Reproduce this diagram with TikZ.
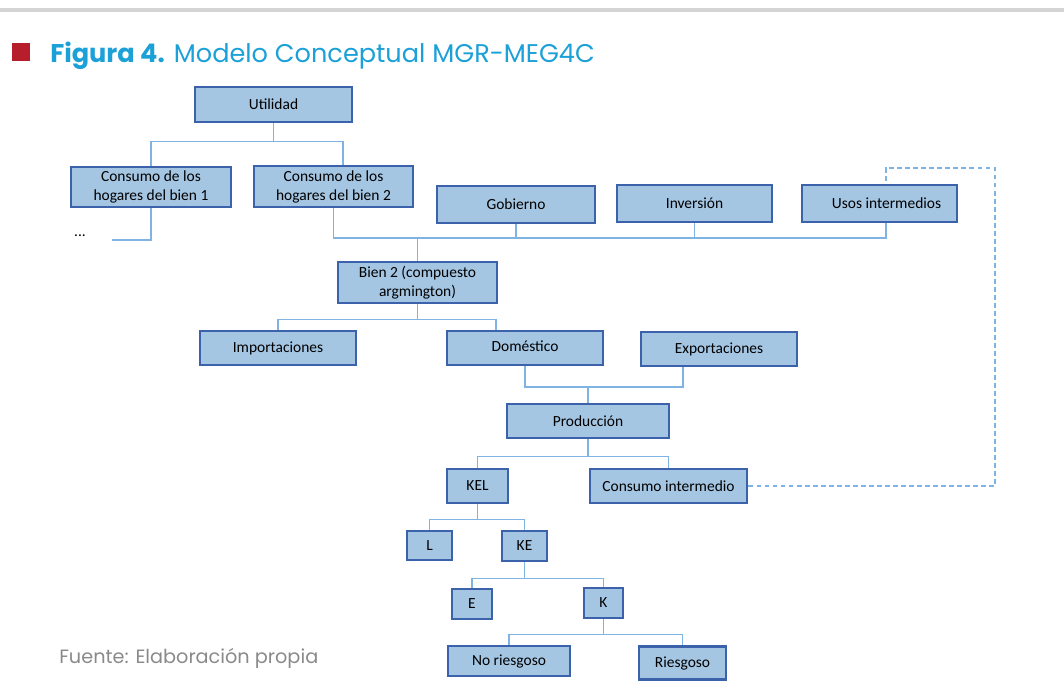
\documentclass[tikz,border=0pt]{standalone}
\usepackage{fontspec}
\setmainfont{Carlito}
\newfontfamily\titlefont{Poppins}
\definecolor{cajaazul}{HTML}{A4C6E3}
\definecolor{bordeazul}{HTML}{3C62AC}
\definecolor{lineaazul}{HTML}{7FB3E3}
\definecolor{titazul}{HTML}{1BA0D7}
\definecolor{rojofig}{HTML}{B71E2B}
\definecolor{grisfuente}{HTML}{8A8A8A}
\definecolor{grislinea}{HTML}{D4D4D4}
\usetikzlibrary{calc}

\tikzset{
	caja/.style = {draw = bordeazul, fill = cajaazul, line width = 2.1pt, inner sep = 0pt, align = center, font = \fontsize{11}{13.5}\selectfont},
	tam/.style 2 args = {minimum width = #1*0.025cm, minimum height = #2*0.025cm},
	enlace/.style = {draw = lineaazul, line width = 0.9pt},
	retorno/.style = {draw = lineaazul, line width = 0.9pt, dash pattern = on 3.5pt off 2.2pt}
}

\begin{document}
\begin{tikzpicture}[x = 0.025cm, y = -0.025cm]
\useasboundingbox (0,0) rectangle (1064,687);
\draw[grislinea, line width = 2.2pt] (0,10) -- (1064,10);
\fill[rojofig] (12,43) rectangle (30,61);
\node[anchor = base west, inner sep = 0pt, text = titazul, font = \titlefont\fontsize{18.2}{20}\selectfont] (titulo) at (50,62) {\textbf{Figura 4.} Modelo Conceptual MGR-MEG4C};
\node[anchor = base west, inner sep = 0pt, text = grisfuente, font = \titlefont\fontsize{13.7}{15}\selectfont] (fuente) at (59,663) {Fuente: Elaboración propia};

% utilidad y demanda
\node[caja, tam = {157}{35}] (util) at (273.5,104.5) {Utilidad};
\node[caja, tam = {160}{40}] (hog1) at (151,187) {Consumo de los\\hogares del bien 1};
\node[caja, tam = {159}{41}] (hog2) at (333.5,186.5) {Consumo de los\\hogares del bien 2};
\node[caja, tam = {158}{37}] (gob) at (516,204.5) {Gobierno};
\node[caja, tam = {155}{37}] (inv) at (694.5,203.5) {Inversión};
\node[caja, tam = {155}{37}] (usos) at (879.5,203.5) {\hspace{10pt}Usos intermedios};
\node[inner sep = 0pt, font = \fontsize{11}{13.5}\selectfont] (puntos) at (80,236) {...};
\coordinate (finhog1) at (112,240);

\draw[enlace] (util.south) -- ++(0,18) -| (hog1.north);
\draw[enlace] (util.south) -- ++(0,18) -| ($(hog2.north)+(9.5,0)$);
\draw[enlace] (hog1.south) |- (finhog1);

% armington
\node[caja, tam = {159}{41}] (bien) at (417.5,282.5) {Bien 2 (compuesto\\argmington)};
\coordinate (barra) at (421,238);
\draw[enlace] (hog2.south) |- (barra) -| (bien.north);
\draw[enlace] ($(usos.south)+(6.5,0)$) |- (barra);
\draw[enlace] (gob.south) -- (gob.south |- barra);
\draw[enlace] (inv.south) -- (inv.south |- barra);

\node[caja, tam = {156}{34}] (imp) at (278,348) {Importaciones};
\node[caja, tam = {156}{34}] (dom) at (525,348) {\raisebox{2pt}{Doméstico}};
\node[caja, tam = {156}{34}] (exp) at (719,349) {Exportaciones};
\draw[enlace] (bien.south) -- ++(0,15) -| (imp.north);
\draw[enlace] (bien.south) -- ++(0,15) -| ($(dom.north)+(-29,0)$);

% produccion
\node[caja, tam = {162}{34}] (prod) at (588,421) {Producción};
\coordinate (barra2) at (591,387);
\draw[enlace] (dom.south) |- (barra2) -| (prod.north);
\draw[enlace] ($(exp.south)+(-36,0)$) |- (barra2);

\node[caja, tam = {61}{34}] (kel) at (477.5,486) {KEL};
\node[caja, tam = {157}{34}] (ci) at (668.5,486) {Consumo intermedio};
\draw[enlace] (prod.south) -- ++(0,17) -| (kel.north);
\draw[enlace] (prod.south) -- ++(0,17) -| (ci.north);

% valor agregado
\node[caja, tam = {45}{29}] (L) at (429.5,545.5) {L};
\node[caja, tam = {45}{30}] (KE) at (524.5,546) {KE};
\draw[enlace] (kel.south) -- ++(0,15) -| (L.north);
\draw[enlace] (kel.south) -- ++(0,15) -| (KE.north);

\node[caja, tam = {40}{30}] (E) at (472,604) {E};
\node[caja, tam = {39}{30}] (K) at (603.5,603) {K};
\draw[enlace] (KE.south) -- ++(0,16) -| (E.north);
\draw[enlace] (KE.south) -- ++(0,16) -| (K.north);

\node[caja, tam = {122}{30}] (nor) at (509,661) {No riesgoso};
\node[caja, tam = {87}{33}] (rie) at (682.5,663) {Riesgoso};
\draw[enlace] (K.south) -- ++(0,15) -| (nor.north);
\draw[enlace] (K.south) -- ++(0,15) -| (rie.north);

% retorno de insumos
\coordinate (esq1) at (995,486);
\coordinate (esq2) at (995,168);
\draw[retorno] (ci.east) -- (esq1) -- (esq2) -| ($(usos.north)+(6.5,0)$);
\end{tikzpicture}
\end{document}
